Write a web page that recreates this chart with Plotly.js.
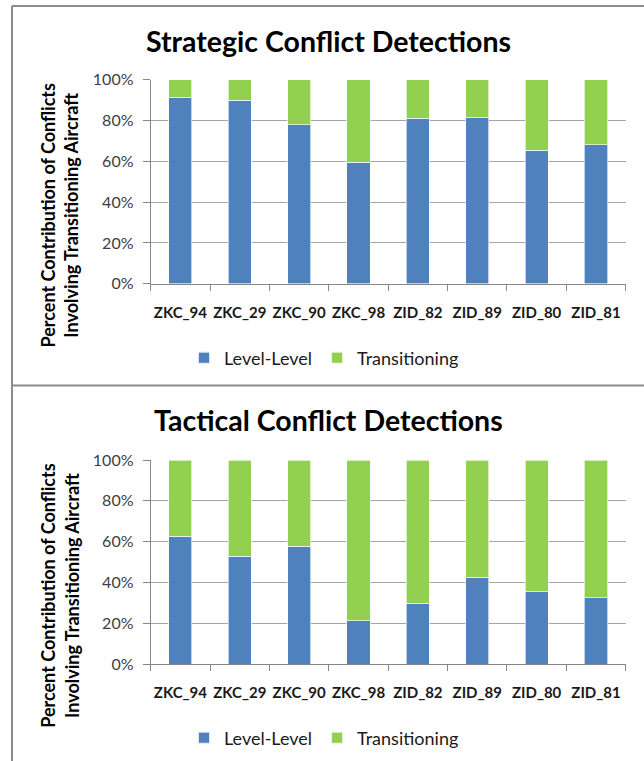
<!DOCTYPE html>
<html><head><meta charset="utf-8">
<script src="https://cdn.plot.ly/plotly-3.0.1.min.js"></script>
<style>html,body{margin:0;padding:0;background:#fff}#chart{width:644px;height:761px}</style>
</head><body><div id="chart"></div>
<script>
const categories = ["ZKC_94","ZKC_29","ZKC_90","ZKC_98","ZID_82","ZID_89","ZID_80","ZID_81"];
const strategicLevel = [91.5, 89.9, 77.8, 59.6, 81.2, 81.7, 65.5, 68.0];
const strategicTrans = [8.5, 10.1, 22.2, 40.4, 18.8, 18.3, 34.5, 32.0];
const tacticalLevel = [62.7, 52.8, 57.7, 21.1, 29.9, 42.6, 35.3, 32.4];
const tacticalTrans = [37.3, 47.2, 42.3, 78.9, 70.1, 57.4, 64.7, 67.6];
const seriesNames = ["Level-Level", "Transitioning"];
const titles = ["Strategic Conflict Detections", "Tactical Conflict Detections"];
const yTitle = "Percent Contribution of Conflicts<br>Involving Transitioning Aircraft";

const W = 644, H = 761;
const BLUE = "#4F81BD", GREEN = "#92D050";
const FONT = "Lato, 'Open Sans', sans-serif";
const px = x => x / W, py = y => 1 - y / H;

function bar(y, name, color, xa, ya, leg) {
  return {type: "bar", x: categories, y: y, name: name, xaxis: xa, yaxis: ya,
    legend: leg, showlegend: true,
    marker: {color: color, line: {color: "rgba(255,255,255,0.8)", width: 0.8}},
    hoverinfo: "x+y+name"};
}
const data = [
  bar(strategicLevel, seriesNames[0], BLUE, "x", "y", "legend"),
  bar(strategicTrans, seriesNames[1], GREEN, "x", "y", "legend"),
  bar(tacticalLevel, seriesNames[0], BLUE, "x2", "y2", "legend2"),
  bar(tacticalTrans, seriesNames[1], GREEN, "x2", "y2", "legend2")
];

const xDomain = [px(150.7), px(625.7)];
function xaxis(anchor) {
  return {domain: xDomain, anchor: anchor, type: "category", tickson: "boundaries",
    tickangle: 0, automargin: false,
    ticks: "outside", ticklen: 6, tickcolor: "#868686", showline: true, linecolor: "#868686",
    linewidth: 1, showgrid: false, ticklabelstandoff: 15,
    tickfont: {family: FONT, size: 15, color: "#1a1a1a", weight: "bold"}, fixedrange: true};
}
function yaxis(anchor, top, bottom) {
  return {domain: [py(bottom), py(top)], anchor: anchor, range: [0, 100],
    tickvals: [0, 20, 40, 60, 80, 100], ticktext: ["0%","20%","40%","60%","80%","100%"],
    ticks: "outside", ticklen: 7, tickcolor: "#868686", showline: true, linecolor: "#868686",
    linewidth: 1, showgrid: true, gridcolor: "#a6a6a6", gridwidth: 1, zeroline: false,
    ticklabelstandoff: 6, automargin: false,
    tickfont: {family: FONT, size: 16, color: "#404040"}, fixedrange: true};
}
const off = 380.3;
function legend(yc) {
  return {orientation: "h", x: px(324), xanchor: "center", y: py(yc), yanchor: "middle",
    font: {family: FONT, size: 18, color: "#1a1a1a"}, itemwidth: 30, itemsizing: "constant",
    bgcolor: "rgba(0,0,0,0)", traceorder: "normal", tracegroupgap: 0};
}
function ann(text, x, y, size, extra) {
  return Object.assign({text: text, xref: "paper", yref: "paper", x: px(x), y: py(y),
    xanchor: "center", yanchor: "middle", showarrow: false,
    font: {family: FONT, size: size, color: "#000"}}, extra || {});
}
const yTitleFont = {family: FONT, size: 18, color: "#000", weight: "bold"};
const layout = {
  width: W, height: H, margin: {l: 0, r: 0, t: 0, b: 0},
  paper_bgcolor: "#fff", plot_bgcolor: "#fff",
  barmode: "stack", bargap: 0.61, showlegend: true,
  xaxis: xaxis("y"), yaxis: yaxis("x", 79.7, 283.7),
  xaxis2: xaxis("y2"), yaxis2: yaxis("x2", 79.7 + off, 283.7 + off),
  legend: legend(358), legend2: legend(738),
  annotations: [
    ann("<b>" + titles[0] + "</b>", 328, 41, 28.5),
    ann("<b>" + titles[1] + "</b>", 328, 420, 28.5),
    ann(yTitle, 59.5, 215, 18, {textangle: -90, font: yTitleFont}),
    ann(yTitle, 59.5, 215 + off, 18, {textangle: -90, font: yTitleFont})
  ],
  shapes: [
    {type: "line", xref: "paper", yref: "paper", x0: px(12), x1: 1, y0: py(6), y1: py(6), line: {color: "#8c8c8c", width: 2}},
    {type: "line", xref: "paper", yref: "paper", x0: px(12), x1: px(12), y0: py(6), y1: 0, line: {color: "#8c8c8c", width: 2}},
    {type: "line", xref: "paper", yref: "paper", x0: px(12), x1: 1, y0: py(385.5), y1: py(385.5), line: {color: "#8c8c8c", width: 2}}
  ]
};
Plotly.newPlot("chart", data, layout, {displayModeBar: false, staticPlot: true});
</script></body></html>
